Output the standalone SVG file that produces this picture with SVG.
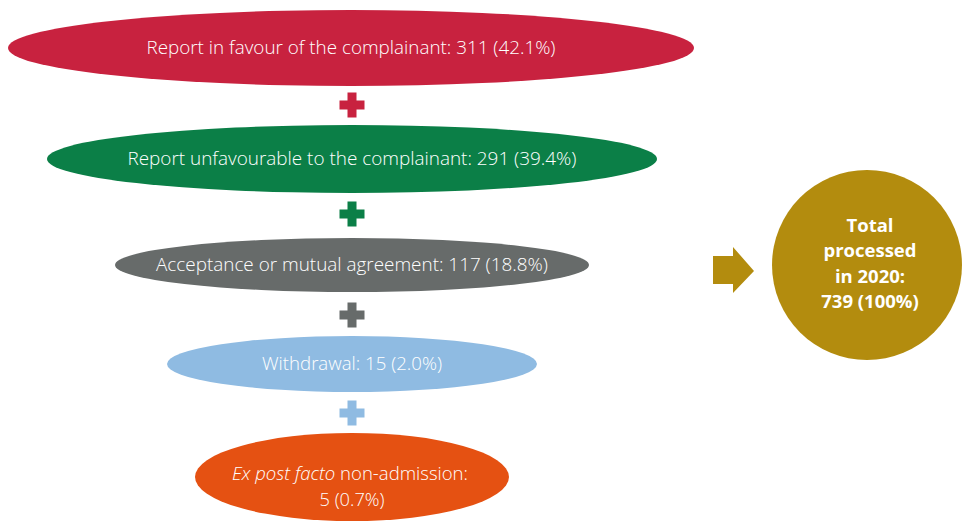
<svg xmlns="http://www.w3.org/2000/svg" width="962" height="522" viewBox="0 0 962 522">
  <style>
    .lbl { font-family: "Open Sans", "Liberation Sans", sans-serif; font-weight: 300; font-size: 17.5px; fill: #ffffff; text-anchor: middle; }
    .tot { font-family: "Open Sans", "Liberation Sans", sans-serif; font-weight: 700; font-size: 18.5px; fill: #ffffff; text-anchor: middle; }
    .red { fill: #c8223f; }
    .green { fill: #0b7f47; }
    .grey { fill: #676b6a; }
    .blue { fill: #8fbbe2; }
    .orange { fill: #e55112; }
    .gold { fill: #b38c0e; }
  </style>
  <defs>
    <!-- plus sign centred on the origin -->
    <path id="plus" d="M-4.5,-12.5 h9 v8 h8 v9 h-8 v8 h-9 v-8 h-8 v-9 h8 z"/>
  </defs>
  <rect width="962" height="522" fill="#ffffff"/>

  <g id="favour">
    <ellipse class="red" cx="351" cy="48" rx="343" ry="38"/>
    <text class="lbl" x="351" y="54" textLength="409" lengthAdjust="spacingAndGlyphs">Report in favour of the complainant: 311 (42.1%)</text>
  </g>
  <g id="unfavourable">
    <ellipse class="green" cx="352" cy="159" rx="305" ry="34"/>
    <text class="lbl" x="352" y="165" textLength="449" lengthAdjust="spacingAndGlyphs">Report unfavourable to the complainant: 291 (39.4%)</text>
  </g>
  <g id="acceptance">
    <ellipse class="grey" cx="352" cy="265" rx="237" ry="27"/>
    <text class="lbl" x="352" y="271" textLength="392" lengthAdjust="spacingAndGlyphs">Acceptance or mutual agreement: 117 (18.8%)</text>
  </g>
  <g id="withdrawal">
    <ellipse class="blue" cx="352" cy="364" rx="185" ry="28"/>
    <text class="lbl" x="352" y="370" textLength="180" lengthAdjust="spacingAndGlyphs">Withdrawal: 15 (2.0%)</text>
  </g>
  <g id="nonadmission">
    <ellipse class="orange" cx="352" cy="477" rx="157" ry="44"/>
    <text class="lbl" x="350" y="480" textLength="236" lengthAdjust="spacingAndGlyphs"><tspan font-style="italic">Ex post facto</tspan> non-admission:</text>
    <text class="lbl" x="352" y="506" textLength="65" lengthAdjust="spacingAndGlyphs">5 (0.7%)</text>
  </g>
  <g id="total">
    <circle class="gold" cx="867" cy="265" r="95"/>
    <text class="tot" x="870" y="232">Total</text>
    <text class="tot" x="870" y="257">processed</text>
    <text class="tot" x="870" y="283">in 2020:</text>
    <text class="tot" x="870" y="308">739 (100%)</text>
  </g>

  <g id="connectors">
    <use href="#plus" class="red" x="352" y="105"/>
    <use href="#plus" class="green" x="352" y="214"/>
    <use href="#plus" class="grey" x="352" y="315"/>
    <use href="#plus" class="blue" x="352" y="413"/>
    <path class="gold" d="M713,256 H733 V247 L754,271 L733,293 V284 H713 Z"/>
  </g>
</svg>
